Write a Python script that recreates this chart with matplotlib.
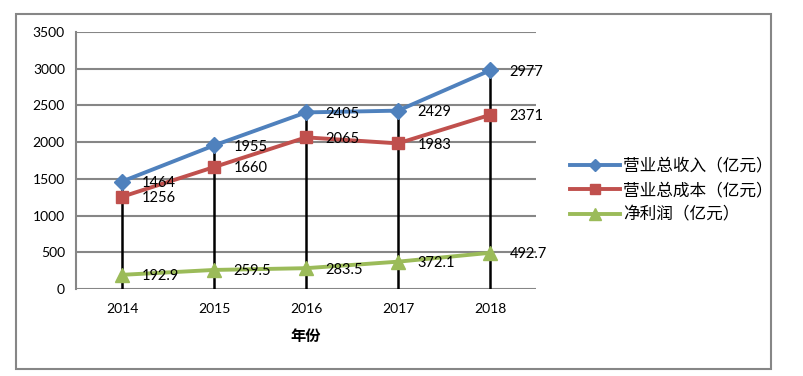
import matplotlib
matplotlib.use('Agg')
import matplotlib.pyplot as plt
from matplotlib.patches import Rectangle

plt.rcParams['font.family'] = ['Lato', 'Noto Sans CJK SC', 'DejaVu Sans']

years = ['2014', '2015', '2016', '2017', '2018']
revenue = [1464, 1955, 2405, 2429, 2977]
cost = [1256, 1660, 2065, 1983, 2371]
profit = [192.9, 259.5, 283.5, 372.1, 492.7]
revenue_labels = ['1464', '1955', '2405', '2429', '2977']
cost_labels = ['1256', '1660', '2065', '1983', '2371']
profit_labels = ['192.9', '259.5', '283.5', '372.1', '492.7']

fig = plt.figure(figsize=(8.04, 3.76), dpi=100)
fig.patches.append(Rectangle((16/804, 1-369/376), 755/804, 355/376,
                             transform=fig.transFigure, fill=False,
                             edgecolor='#868686', linewidth=1.5))
ax = fig.add_axes([76/804, 1-289/376, 460/804, 257/376])

x = list(range(len(years)))
tops = [max(a, b, c) for a, b, c in zip(revenue, cost, profit)]
ax.vlines(x, 0, tops, color='black', linewidth=1.8, zorder=2)

ax.plot(x, revenue, color='#4F81BD', lw=2.8, marker='D', ms=8, label='营业总收入（亿元）', zorder=4)
ax.plot(x, cost, color='#C0504D', lw=2.8, marker='s', ms=9, label='营业总成本（亿元）', zorder=4)
ax.plot(x, profit, color='#9BBB59', lw=2.8, marker='^', ms=10, label='净利润（亿元）', zorder=4)

for vals, labs in [(revenue, revenue_labels), (cost, cost_labels), (profit, profit_labels)]:
    for xi, v, t in zip(x, vals, labs):
        ax.annotate(t, (xi, v), xytext=(14, -1), textcoords='offset points',
                    ha='left', va='center', fontsize=10.5, zorder=5)

ax.set_xlim(-0.5, 4.5)
ax.set_ylim(0, 3500)
ax.set_yticks(range(0, 3501, 500))
ax.set_xticks(x)
ax.set_xticklabels(years)
ax.tick_params(axis='both', length=0, labelsize=10)
ax.tick_params(axis='x', pad=10)
ax.tick_params(axis='y', pad=8)
ax.grid(axis='y', color='#868686', linewidth=1.5, zorder=1)
ax.set_axisbelow(True)
for s in ['top', 'right', 'bottom']:
    ax.spines[s].set_visible(False)
ax.spines['left'].set_color('#868686')
ax.spines['left'].set_linewidth(1.5)
ax.set_xlabel('年份', fontsize=11, fontweight='bold', labelpad=11)

fig.legend(loc='center left', bbox_to_anchor=(555/804, 1-190/376), frameon=False,
           fontsize=12, handlelength=3.0, handletextpad=0.2, labelspacing=0.5,
           markerscale=0.8)

fig.savefig('out.png', dpi=100)
